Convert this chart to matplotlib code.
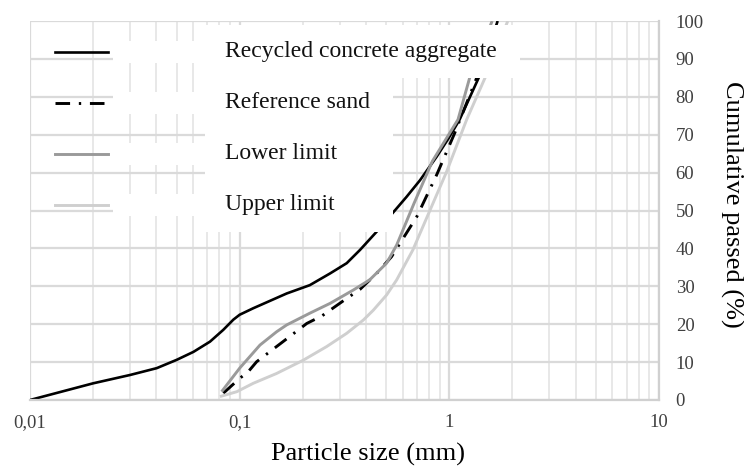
import numpy as np
import matplotlib.pyplot as plt
from matplotlib.patches import Rectangle
from matplotlib.ticker import FixedLocator, NullFormatter, LogLocator

plt.rcParams['font.family'] = ['Liberation Serif', 'DejaVu Serif']

# grading curves (particle size in mm, cumulative passed in %)
rca_size = [0.01, 0.02, 0.03, 0.0402, 0.0501, 0.0602, 0.0722, 0.0835, 0.0933, 0.1, 0.116,
            0.1675, 0.216, 0.27, 0.324, 0.375, 0.45, 0.54, 0.625, 0.725, 0.87, 0.99,
            1.12, 1.38, 1.7]
rca_pass = [0, 4.4, 6.6, 8.4, 10.6, 12.7, 15.4, 18.5, 21.2, 22.5, 24.2,
            28.1, 30.3, 33.4, 36.1, 39.6, 44.4, 49.5, 53.6, 58, 64.2, 69,
            74, 85, 100]

sand_size = [0.0836, 0.1, 0.11, 0.1205, 0.161, 0.209, 0.247, 0.324, 0.375, 0.45, 0.53,
             0.7, 0.87, 1.06, 1.35, 1.75]
sand_pass = [1.8, 5.7, 7.5, 10.1, 15.4, 20.2, 22.2, 26.8, 29.2, 33.4, 37.8,
             48.4, 59.4, 70.4, 85, 100]

low_size = [0.082, 0.1, 0.125, 0.15, 0.1675, 0.216, 0.27, 0.348, 0.417, 0.502, 0.561,
            0.68, 0.83, 1.1, 1.25, 1.6]
low_pass = [2.2, 8.4, 14.5, 18.0, 19.8, 22.9, 25.5, 29, 31.7, 36.1, 40.9,
            52, 63, 74, 85, 100]

up_size = [0.0805, 0.097, 0.116, 0.15, 0.201, 0.26, 0.324, 0.389, 0.434, 0.502, 0.561,
           0.67, 0.97, 1.21, 1.48, 1.9]
up_pass = [0.9, 2.2, 4.4, 7, 10.5, 14.1, 17.6, 21.1, 23.7, 27.7, 31.7,
           39.6, 60.2, 74, 85, 100]

names = ['Recycled concrete aggregate', 'Reference sand', 'Lower limit', 'Upper limit']
x_ticks = [0.01, 0.1, 1, 10]
x_labels = ['0,01', '0,1', '1', '10']
y_ticks = list(range(0, 101, 10))

W, H = 744, 468
fig = plt.figure(figsize=(W / 100, H / 100), dpi=100)
L, R, T, B = 30, 659, 21, 400
ax = fig.add_axes([L / W, 1 - B / H, (R - L) / W, (B - T) / H])

def frac(px, py):
    # pixel position -> axes fraction
    return (px - L) / (R - L), (B - py) / (B - T)

ax.set_xscale('log')
ax.set_xlim(0.01, 10)
ax.set_ylim(0, 100)

ax.xaxis.set_major_locator(FixedLocator(x_ticks))
ax.set_xticklabels(x_labels)
ax.xaxis.set_minor_locator(LogLocator(base=10, subs=np.arange(2, 10)))
ax.xaxis.set_minor_formatter(NullFormatter())
ax.set_yticks(y_ticks)
ax.yaxis.tick_right()
ax.yaxis.set_label_position('right')
ax.tick_params(axis='both', which='both', length=0, labelsize=13.5, colors='#404040')
ax.tick_params(axis='x', pad=10)
ax.tick_params(axis='y', pad=12)

ax.grid(True, which='major', color='#dadada', lw=1.6)
ax.grid(True, which='minor', axis='x', color='#e8e8e8', lw=1.4)
ax.set_axisbelow(True)
for side in ['top', 'left']:
    ax.spines[side].set_visible(False)
for side in ['bottom', 'right']:
    ax.spines[side].set_color('#d0d0d0')
    ax.spines[side].set_linewidth(1.6)

ax.set_xlabel('Particle size (mm)', fontsize=19, va='center')
ax.xaxis.set_label_coords(*frac(368, 454))
ax.set_ylabel('Cumulative passed (%)', fontsize=19, rotation=-90, va='center', ha='center')
ax.yaxis.set_label_coords(*frac(732, 204))

styles = [
    dict(color='black', lw=1.9, ls='-'),
    dict(color='black', lw=2.1, dashes=(5, 3, 0.8, 3)),
    dict(color='#9a9a9a', lw=2.1, ls='-'),
    dict(color='#cfcfcf', lw=2.1, ls='-'),
]
series = [(rca_size, rca_pass), (sand_size, sand_pass), (low_size, low_pass), (up_size, up_pass)]
for (xs, ys), st in zip(series, styles):
    ax.plot(xs, ys, zorder=2, solid_capstyle='butt', solid_joinstyle='round', **st)

# legend: white boxes over the curves, handles on the left
boxes = [(205, 25, 520, 78), (205, 78, 393, 232)]
for x0, y0, x1, y1 in boxes:
    fx0, fy1 = frac(x0, y0)
    fx1, fy0 = frac(x1, y1)
    ax.add_patch(Rectangle((fx0, fy0), fx1 - fx0, fy1 - fy0, transform=ax.transAxes,
                           facecolor='white', edgecolor='none', zorder=3))
rows = [52, 103, 154, 205]
for py, name, st in zip(rows, names, styles):
    fx0, fy0 = frac(113, py - 11)
    fx1, fy1 = frac(205, py + 11)
    ax.add_patch(Rectangle((fx0, fy1), fx1 - fx0, fy0 - fy1, transform=ax.transAxes,
                           facecolor='white', edgecolor='none', zorder=3))
    hx0, hy = frac(55, py)
    hx1, _ = frac(108, py)
    ax.plot([hx0, hx1], [hy, hy], transform=ax.transAxes, zorder=4, clip_on=False, **st)
    tx, ty = frac(225, py)
    ax.text(tx, ty, name, transform=ax.transAxes, fontsize=17, va='center', ha='left',
            color='#111111', zorder=5)

fig.savefig('out.png', dpi=100)
